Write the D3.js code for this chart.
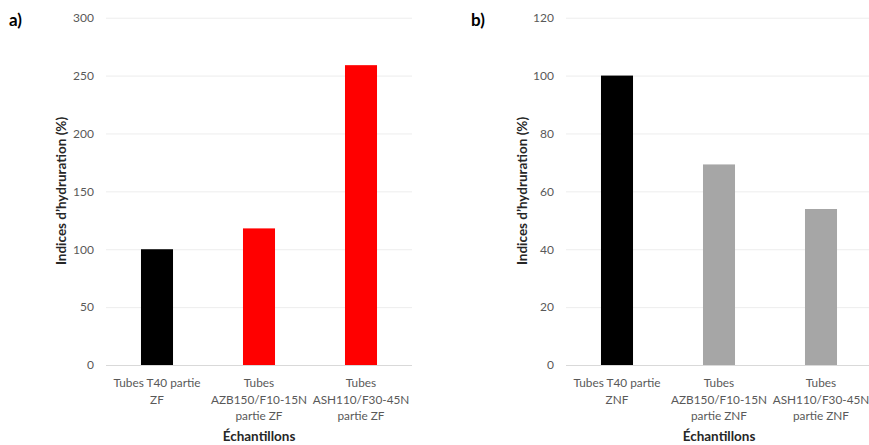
<!DOCTYPE html>
<html><head><meta charset="utf-8">
<script src="https://cdn.jsdelivr.net/npm/d3@7"></script>
<style>body{margin:0;background:#fff}svg{display:block}text{font-family:Lato,"Open Sans",sans-serif}</style>
</head><body><svg id="c" width="869" height="445"></svg>
<script>
const catsA = [["Tubes T40 partie","ZF"],["Tubes","AZB150/F10-15N","partie ZF"],["Tubes","ASH110/F30-45N","partie ZF"]];
const valuesA = [100, 118, 259];
const colorsA = ["#000000","#FF0000","#FF0000"];
const ticksA = [0,50,100,150,200,250,300];

const catsB = [["Tubes T40 partie","ZNF"],["Tubes","AZB150/F10-15N","partie ZNF"],["Tubes","ASH110/F30-45N","partie ZNF"]];
const valuesB = [100, 69.3, 53.9];
const colorsB = ["#000000","#A6A6A6","#A6A6A6"];
const ticksB = [0,20,40,60,80,100,120];

const yTitle = "Indices d\u2019hydruration (%)";
const xTitle = "\u00C9chantillons";

const svg = d3.select("#c");

function panel(o){
  const g = svg.append("g");
  const x = d3.scaleBand().domain(d3.range(o.cats.length)).range([o.left, o.left+306]).paddingInner(0.686).paddingOuter(0.343);
  const y = d3.scaleLinear().domain([0, o.max]).range([365, 17.7]);
  g.selectAll("line.grid").data(o.ticks).join("line")
    .attr("x1", o.left).attr("x2", o.left+306)
    .attr("y1", d=>y(d)+0.5).attr("y2", d=>y(d)+0.5)
    .attr("stroke", d=> d===0 ? "#D9D9D9" : "#EDEDED").attr("stroke-width",1);
  const ya = d3.axisLeft(y).tickValues(o.ticks).tickSize(0).tickPadding(0);
  const yg = g.append("g").attr("transform",`translate(${o.left-12},0)`).call(ya);
  yg.select(".domain").remove();
  yg.selectAll("text").attr("fill","#595959").style("font-size","12px").style("font-family","Lato,sans-serif");
  g.selectAll("rect.bar").data(o.vals).join("rect")
    .attr("x",(d,i)=>x(i)).attr("width",x.bandwidth())
    .attr("y",d=>y(d)).attr("height",d=>y(0)-y(d))
    .attr("fill",(d,i)=>o.colors[i]);
  o.cats.forEach((lines,i)=>{
    const t = g.append("text").attr("text-anchor","middle").attr("fill","#595959").style("font-size","11.8px");
    lines.forEach((ln,j)=>{
      t.append("tspan").attr("x", x(i)+x.bandwidth()/2).attr("y", 387+j*16.5).text(ln);
    });
  });
  g.append("text").attr("x", o.left+153).attr("y", 441).attr("text-anchor","middle")
    .style("font-size","13.5px").style("font-weight","bold").attr("fill","#262626").text(xTitle);
  g.append("text").attr("transform",`translate(${o.ytx},191) rotate(-90)`).attr("text-anchor","middle")
    .style("font-size","13.5px").style("font-weight","bold").attr("fill","#262626").text(yTitle);
  g.append("text").attr("x", o.lx).attr("y", 26).style("font-size","17px").style("font-weight","bold").attr("fill","#000").text(o.label);
}

panel({cats:catsA, vals:valuesA, colors:colorsA, ticks:ticksA, max:300, left:106, ytx:66, lx:9, label:"a)"});
panel({cats:catsB, vals:valuesB, colors:colorsB, ticks:ticksB, max:120, left:566, ytx:527, lx:471, label:"b)"});
</script></body></html>
